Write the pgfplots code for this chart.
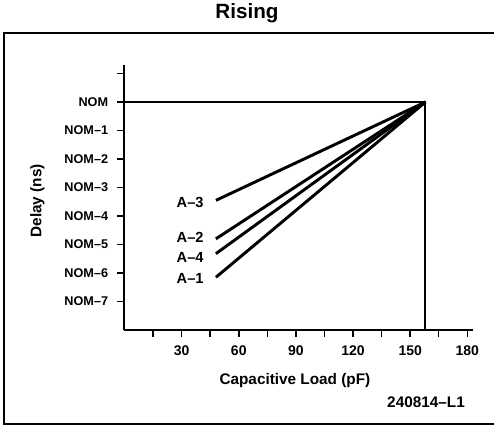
\documentclass[border=0pt]{standalone}
\usepackage{fontspec}
\setmainfont{Liberation Sans}
\usepackage{pgfplots}
\pgfplotsset{compat=1.18}
\begin{document}
\begin{tikzpicture}[x=0.75pt,y=0.75pt]
\useasboundingbox (0,0) rectangle (494,426);
\draw[line width=1.5pt] (497,393) -- (4,393) -- (4,2) -- (497,2);
\node[font=\fontsize{15.5}{18}\selectfont\bfseries] at (247,413) {Rising};
\begin{axis}[
  at={(93.375pt,72pt)}, anchor=south west, scale only axis,
  width=261.4pt, height=198.75pt,
  xmin=0, xmax=183, ymin=-8, ymax=1.3,
  axis lines=left, axis line style={-, line width=1.5pt},
  xtick={15,30,...,180},
  xticklabels={,30,,60,,90,,120,,150,,180},
  ytick={-7,-6,-5,-4,-3,-2,-1,0,1},
  yticklabels={NOM--7,NOM--6,NOM--5,NOM--4,NOM--3,NOM--2,NOM--1,NOM,{}},
  tick align=outside, major tick length=5.25pt,
  tick style={line width=1.1pt, black},
  xticklabel style={font=\fontsize{10.5}{12}\selectfont\bfseries, yshift=-3pt},
  yticklabel style={font=\fontsize{9.5}{11}\selectfont\bfseries, xshift=-3.5pt},
  /pgf/number format/assume math mode=true,
  xlabel={Capacitive Load (pF)},
  ylabel={Delay (ns)},
  every axis x label/.style={at={(axis description cs:0.489,-0.189)}, anchor=center, font=\fontsize{11.5}{13}\selectfont\bfseries},
  every axis y label/.style={at={(axis description cs:-0.25,0.487)}, anchor=center, rotate=90, font=\fontsize{11.5}{13}\selectfont\bfseries},
  clip=false,
]
\addplot[black, line width=1.5pt] coordinates {(0,0) (158,0) (158,-8)};
\addplot[black, line width=2.2pt] coordinates {(48,-3.45) (158,0)};
\addplot[black, line width=2.2pt] coordinates {(48,-4.8) (158,0)};
\addplot[black, line width=2.2pt] coordinates {(48,-5.32) (158,0)};
\addplot[black, line width=2.2pt] coordinates {(48,-6.15) (158,0)};
\node[anchor=east, font=\fontsize{11}{12}\selectfont\bfseries] at (axis cs:44,-3.51) {A--3};
\node[anchor=east, font=\fontsize{11}{12}\selectfont\bfseries] at (axis cs:44,-4.75) {A--2};
\node[anchor=east, font=\fontsize{11}{12}\selectfont\bfseries] at (axis cs:44,-5.44) {A--4};
\node[anchor=east, font=\fontsize{11}{12}\selectfont\bfseries] at (axis cs:44,-6.18) {A--1};
\node[anchor=east, font=\fontsize{11.5}{13}\selectfont\bfseries] at (axis description cs:0.99,-0.272) {240814--L1};
\end{axis}
\end{tikzpicture}
\end{document}
